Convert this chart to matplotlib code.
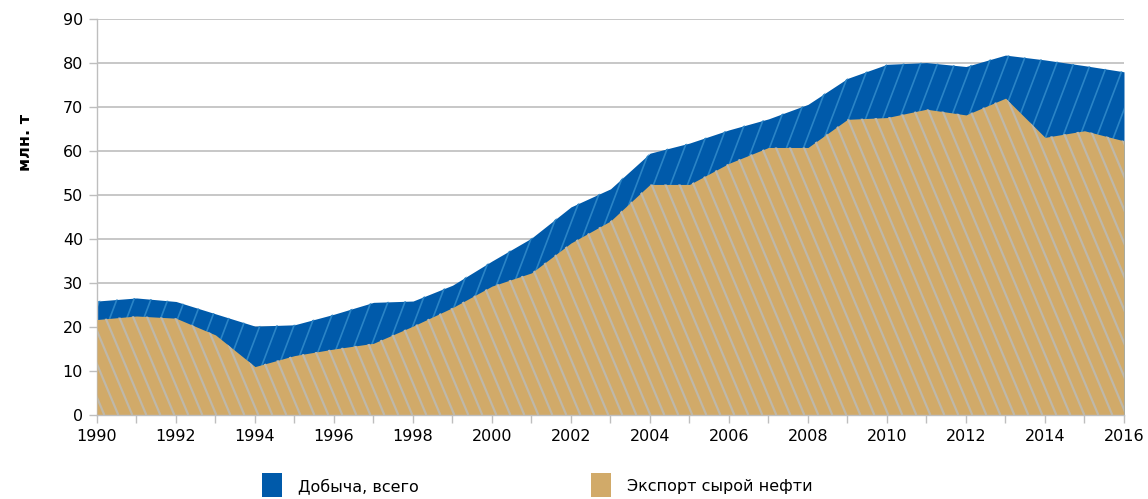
import numpy as np
import matplotlib.pyplot as plt
from matplotlib.collections import LineCollection
from matplotlib.patches import Rectangle

years = list(range(1990, 2017))
production = [25.9, 26.6, 25.8, 23.0, 20.2, 20.5, 22.9, 25.6, 25.9, 29.5,
              35.0, 40.2, 47.3, 51.4, 59.5, 61.8, 64.8, 67.3, 70.6, 76.5,
              79.7, 80.1, 79.2, 81.8, 80.7, 79.4, 78.0]
export = [21.7, 22.5, 22.0, 18.2, 11.0, 13.5, 15.0, 16.3, 20.2, 24.4,
          29.3, 32.3, 39.1, 44.1, 52.4, 52.4, 57.2, 60.8, 60.8, 67.2,
          67.6, 69.5, 68.2, 72.0, 63.1, 64.6, 62.3]
series_names = ["Добыча, всего", "Экспорт сырой нефти"]
y_ticks = list(range(0, 91, 10))
x_labels = list(range(1990, 2017, 2))

BLUE = "#005AAA"
BLUE_HATCH = "#2A84C6"
TAN = "#D1AA69"
TAN_HATCH = "#BFB8A9"
GRID = "#BEBEBE"

W, H, DPI = 1148, 499, 100
fig = plt.figure(figsize=(W / DPI, H / DPI), dpi=DPI)
plt.rcParams['font.family'] = ['DejaVu Sans']

ax_l, ax_r, ax_t, ax_b = 97, 1124, 19, 415
ax = fig.add_axes([ax_l / W, 1 - ax_b / H, (ax_r - ax_l) / W, (ax_b - ax_t) / H])
aw, ah = ax_r - ax_l, ax_b - ax_t

poly_prod = ax.fill_between(years, 0, production, color=BLUE, lw=0, zorder=2)
poly_exp = ax.fill_between(years, 0, export, color=TAN, lw=0, zorder=3)


def stripes(spacing, slant, color, poly, z, lw):
    """Slanted stripes in pixel space, clipped to a filled area."""
    segs = []
    x = -aw
    while x < 2 * aw:
        if slant > 0:
            p0 = (x, 0.0)
            p1 = (x + slant * ah, ah)
        else:
            p0 = (x, ah)
            p1 = (x - slant * ah, 0.0)
        segs.append([(p0[0] / aw, p0[1] / ah), (p1[0] / aw, p1[1] / ah)])
        x += spacing
    lc = LineCollection(segs, colors=color, linewidths=lw,
                        transform=ax.transAxes, zorder=z)
    ax.add_collection(lc)
    lc.set_clip_path(poly.get_paths()[0], ax.transData)


stripes(17.0, 0.38, BLUE_HATCH, poly_prod, 2.5, 1.2)
stripes(14.0, -0.42, TAN_HATCH, poly_exp, 3.5, 1.6)

ax.set_xlim(1990, 2016)
ax.set_ylim(0, 90)
ax.set_yticks(y_ticks)
ax.set_xticks(x_labels)
ax.set_xticks(years, minor=True)
ax.tick_params(axis='both', labelsize=11.5, colors=GRID, labelcolor="#000000",
               length=6, width=1, direction='out')
ax.tick_params(axis='x', which='minor', length=6, width=1, colors=GRID)
ax.tick_params(axis='x', pad=4)
ax.tick_params(axis='y', pad=4)
ax.grid(axis='y', color=GRID, lw=1.2, zorder=1)
ax.set_axisbelow(True)
for s in ("top", "right"):
    ax.spines[s].set_visible(False)
for s in ("left", "bottom"):
    ax.spines[s].set_color(GRID)
    ax.spines[s].set_linewidth(1)
ax.spines["bottom"].set_zorder(5)

fig.text(25 / W, 1 - 142 / H, "млн. т", rotation=90, fontsize=11.5,
         fontweight='bold', ha='center', va='center')

# legend
for px, col, name in ((262, BLUE, series_names[0]), (591, TAN, series_names[1])):
    fig.add_artist(Rectangle((px / W, 1 - 497 / H), 20 / W, 24 / H,
                             transform=fig.transFigure, color=col, lw=0))
    fig.text((px + 36) / W, 1 - 486 / H, name, fontsize=11.5,
             ha='left', va='center')

fig.savefig("out.png", dpi=DPI)
